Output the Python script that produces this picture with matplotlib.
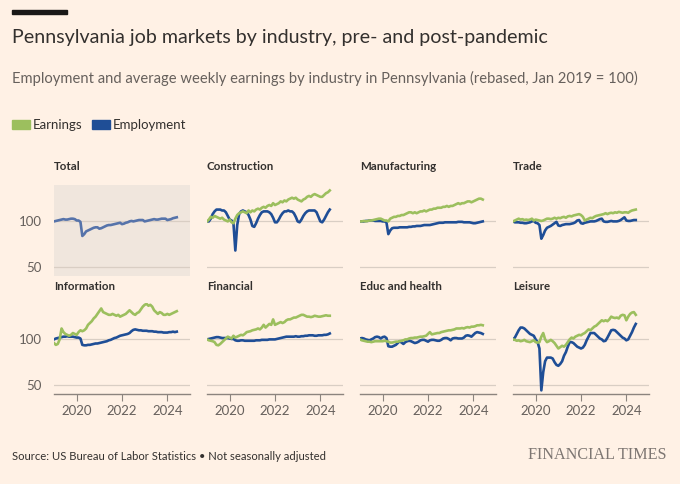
import matplotlib.pyplot as plt
import numpy as np
from matplotlib.patches import Rectangle

plt.rcParams["font.family"] = ["Lato", "DejaVu Sans"]

# monthly, Jan 2019 - Jun 2024, rebased Jan 2019 = 100
total_emp = [100, 100.5, 101, 101.5, 102, 102.5, 102, 102, 102.5, 103, 103, 102.5,
             101, 101, 99.5, 84, 86, 89, 90, 91, 92, 93, 93.5, 93.5,
             92, 92.5, 93.5, 94.5, 95.5, 96, 96, 96.5, 97, 97.5, 98, 98.5,
             97, 97.5, 98.5, 99, 100, 100.5, 100, 100.5, 101, 101.5, 101.5, 101.5,
             100, 100.5, 101, 101.5, 102, 102.5, 102, 102, 102.5, 103, 103, 103,
             101.5, 102, 102.5, 103.5, 104, 104.5]

constr_earn = [100, 102, 105, 104, 106, 105, 104, 103, 104, 102, 101, 100,
               102, 99, 98, 103, 107, 109, 110, 111, 110, 109, 112, 110,
               112, 111, 113, 114, 113, 115, 116, 115, 117, 118, 117, 120,
               118, 119, 120, 122, 121, 123, 122, 124, 125, 126, 125, 126,
               124, 123, 122, 124, 125, 127, 128, 127, 129, 130, 129, 128,
               127, 127, 129, 131, 132, 134]
constr_emp = [100, 100, 103, 108, 111, 113, 113, 113, 112, 112, 110, 106,
              102, 101, 98, 68, 96, 108, 111, 112, 111, 110, 107, 102,
              95, 94, 98, 103, 107, 110, 111, 111, 111, 110, 108, 104,
              99, 99, 102, 106, 109, 111, 111, 112, 111, 111, 109, 105,
              100, 99, 102, 106, 109, 111, 112, 112, 112, 112, 110, 105,
              100, 99, 102, 106, 110, 113]

manuf_earn = [100, 100, 100.5, 100, 100.5, 101, 101, 101.5, 102, 102.5, 103, 103,
              102, 101, 101, 100, 103, 104, 105, 105, 106, 106, 107, 107,
              108, 109, 110, 110, 109, 110, 109, 110, 111, 111, 112, 111,
              112, 113, 113, 114, 114, 115, 115, 115, 116, 116, 117, 116,
              117, 117, 118, 119, 120, 119, 120, 120, 121, 122, 122, 121,
              122, 123, 124, 125, 125, 124]
manuf_emp = [100, 100, 100, 100.5, 100.5, 101, 101, 101, 100.5, 100.5, 100.5, 100.5,
             100, 100, 99, 86, 90, 92.5, 93, 93, 93, 93.5, 93.5, 93.5,
             93.5, 93.5, 94, 94, 94.5, 94.5, 95, 95, 95, 95.5, 96, 96,
             96, 96, 96.5, 97, 97.5, 98, 98.5, 98.5, 98.5, 99, 99, 99,
             99, 99, 99, 99, 99.5, 99.5, 99.5, 99, 99, 99, 99, 98.5,
             98, 98, 98.5, 99, 99.5, 100]

trade_earn = [100, 101, 102, 103, 102, 102.5, 101.5, 102, 101.5, 102, 103, 101,
              102, 101.5, 101, 100.5, 101, 102, 103, 103, 102.5, 103, 104, 103,
              104, 103.5, 104.5, 105, 104, 105.5, 106, 105.5, 106.5, 107, 107.5, 108,
              107, 105, 101, 102, 103, 104, 103.5, 105, 106, 106.5, 107, 107.5,
              108, 109, 108, 109, 109.5, 109, 110, 109.5, 110.5, 110, 109.5, 110,
              110, 109.5, 111, 112, 112.5, 113]
trade_emp = [100, 99, 99, 99, 98.5, 98.5, 98, 98, 98.5, 99, 100, 100.5,
             98.5, 98, 96, 81, 85, 90, 93, 94, 95, 96.5, 98, 99.5,
             95.5, 95, 96, 96.5, 97, 97, 97, 97.5, 98, 99, 101, 101.5,
             98, 97.5, 98.5, 99, 99.5, 100, 100, 100, 100.5, 101.5, 102.5, 103,
             100, 99.5, 99.5, 100, 100.5, 100, 100, 100, 100.5, 101.5, 103, 104.5,
             101, 100.5, 100.5, 101, 101.5, 101.5]

info_earn = [96, 94, 95, 100, 112, 108, 106, 105, 104, 105, 107, 106,
             105, 108, 110, 109, 110, 112, 116, 118, 120, 123, 125, 128,
             131, 134, 130, 129, 128, 127, 127, 128, 127, 126, 127, 125,
             126, 127, 128, 130, 132, 130, 128, 127, 129, 130, 133, 136,
             138, 139, 137, 138, 136, 132, 130, 128, 130, 129, 127, 127,
             128, 127, 128, 129, 130, 131]
info_emp = [100, 101, 101.5, 102, 102.5, 103, 103, 103.5, 103, 103, 103, 102.5,
            102, 102, 101, 94, 93.5, 93.5, 94, 94, 94.5, 95, 95.5, 95.5,
            96, 96.5, 97, 97.5, 98, 99, 99.5, 100.5, 101.5, 102, 103, 104,
            104.5, 105, 105.5, 106, 107, 109, 110.5, 111, 110.5, 110, 110, 109.5,
            109.5, 109.5, 109, 109, 109, 108.5, 108.5, 108, 108, 108, 107.5, 107.5,
            107.5, 108, 108, 108.5, 108, 108.5]

fin_earn = [100, 99, 98.5, 98, 97, 94, 93.5, 95, 97, 99, 101, 103,
            102, 101, 104, 102, 103, 104, 105, 104.5, 106, 108, 108.5, 109,
            110, 110.5, 111, 112, 111, 113, 116, 113, 115, 117, 116, 122,
            116, 117, 118, 119, 118, 119, 121, 122, 122, 123, 124, 124,
            125, 126, 127, 127, 126, 125, 125, 124.5, 125, 126, 125.5, 125,
            125, 125.5, 126, 126.5, 126, 126]
fin_emp = [100, 100.5, 101, 101.5, 102, 102.5, 102.5, 102, 101.5, 101.5, 101.5, 101.5,
           101, 100.5, 100.5, 99, 98.5, 98.5, 99, 99, 98.5, 98.5, 98.5, 98.5,
           98.5, 98.5, 99, 99, 99, 99.5, 99.5, 99.5, 99.5, 100, 100, 100,
           100, 100.5, 101, 101.5, 102, 102.5, 103, 103, 103, 103, 103, 103.5,
           103, 103, 103.5, 103.5, 104, 104, 104.5, 104.5, 104.5, 104, 104, 104.5,
           104.5, 104.5, 105, 105, 105.5, 106.5]

educ_earn = [100, 99, 98.5, 98, 97.5, 97.5, 97, 97.5, 98, 98, 98, 98,
             98, 98.5, 98, 97.5, 96.5, 96.5, 97, 97.5, 97.5, 98, 98.5, 99,
             100, 100, 101, 101.5, 101.5, 102, 102, 102.5, 103, 103, 103.5, 104,
             106, 108, 105.5, 106, 106.5, 107, 107, 108, 108.5, 109, 109.5, 110,
             110, 110.5, 111, 112, 112, 112, 112.5, 112, 113, 113.5, 113, 114,
             114, 114.5, 115.5, 115.5, 116, 115.5]
educ_emp = [101, 101.5, 101, 100, 99.5, 99, 100, 101, 102.5, 103, 102.5, 101,
            102.5, 103, 101.5, 92.5, 92, 92, 93, 94, 96, 98, 96.5, 95,
            97, 98, 98.5, 98, 97, 96, 96.5, 97.5, 99, 99.5, 99.5, 98.5,
            97.5, 99, 99.5, 99.5, 99, 98.5, 98.5, 99.5, 101, 101.5, 101.5, 100.5,
            99, 101, 101.5, 101.5, 101, 101, 101, 102, 104, 104.5, 104, 103,
            105, 107, 108, 107.5, 107, 106]

leis_earn = [100, 99.5, 98.5, 99, 98, 98.5, 99.5, 98, 97.5, 97, 98, 99,
             97, 96.5, 97, 103, 107, 100, 97, 98, 99.5, 98, 96, 93,
             90, 91.5, 93, 92, 94, 97, 100, 102, 101, 103, 104, 105,
             104.5, 106, 107, 109, 111, 110, 112, 114, 115, 117, 119, 121,
             120, 121, 120, 122, 125, 124, 123.5, 124, 123, 126, 127, 126.5,
             121, 125, 128, 129.5, 130, 127]
leis_emp = [100, 102, 106, 110, 113, 113, 112, 110, 108, 106, 105, 104,
            100, 97, 90, 44, 64, 76, 80, 80, 80, 79, 75, 72,
            71, 73, 76, 82, 86, 92, 97, 97, 96, 94, 92, 91,
            90, 91, 94, 99, 103, 107, 107, 107, 105, 103, 101, 100,
            98, 98.5, 102, 106, 110, 110.5, 110, 108, 106, 104, 102, 101,
            99, 100, 104, 108, 113, 117]

panel_names = ["Total", "Construction", "Manufacturing", "Trade",
               "Information", "Financial", "Educ and health", "Leisure"]
earnings = [None, constr_earn, manuf_earn, trade_earn,
            info_earn, fin_earn, educ_earn, leis_earn]
employment = [total_emp, constr_emp, manuf_emp, trade_emp,
              info_emp, fin_emp, educ_emp, leis_emp]
year_ticks = [2020, 2022, 2024]

BG = "#fff1e5"
GREEN = "#9cbf5e"
BLUE = "#1f4e96"
TOTAL_BLUE = "#5673aa"
GRID = "#d9cec4"
AXIS = "#8c847e"
TEXT = "#33302e"
MUTED = "#66605c"

W, H = 680, 484
fig = plt.figure(figsize=(W / 100, H / 100), dpi=100, facecolor=BG)


def px_axes(left, top, width, height):
    return fig.add_axes([left / W, 1 - (top + height) / H, width / W, height / H])


months = 2019 + np.arange(len(total_emp)) / 12
col_left = [54, 207, 360, 513]
row_top = [185, 303]
title_y = [167, 286]

for i, name in enumerate(panel_names):
    row, col = divmod(i, 4)
    ax = px_axes(col_left[col], row_top[row], 136, 91)
    ax.set_facecolor("#f0e6dd" if i == 0 else "none")
    for v in (50, 100):
        ax.axhline(v, color=GRID, lw=0.9, zorder=0)
    if earnings[i] is None:
        ax.plot(months, employment[i], color=TOTAL_BLUE, lw=1.9, zorder=3)
    else:
        ax.plot(months, employment[i], color=BLUE, lw=1.9, zorder=2)
        ax.plot(months, earnings[i], color=GREEN, lw=1.9, zorder=3)
    ax.set_xlim(2019, 2025)
    ax.set_ylim(40, 140)
    for s in ("top", "right", "left"):
        ax.spines[s].set_visible(False)
    if row == 1:
        ax.spines["bottom"].set_color(AXIS)
        ax.spines["bottom"].set_linewidth(1)
        ax.set_xticks(year_ticks)
        ax.tick_params(axis="x", length=5, color=AXIS, labelcolor=MUTED,
                       labelsize=9.5, pad=3)
    else:
        ax.spines["bottom"].set_visible(False)
        ax.set_xticks([])
    if col == 0:
        ax.set_yticks([50, 100])
        ax.tick_params(axis="y", length=0, labelcolor=MUTED, labelsize=9.5, pad=9)
    else:
        ax.set_yticks([])
    fig.text(col_left[col] / W, 1 - title_y[row] / H, name, fontsize=8.3,
             fontweight="bold", color=TEXT, va="center")

fig.add_artist(Rectangle((12 / W, 1 - 14 / H), 55 / W, 4 / H,
                         transform=fig.transFigure, color="#1a1817"))
fig.text(12 / W, 1 - 37 / H, "Pennsylvania job markets by industry, pre- and post-pandemic",
         fontsize=14.1, color=TEXT, va="center")
fig.text(12 / W, 1 - 78 / H,
         "Employment and average weekly earnings by industry in Pennsylvania (rebased, Jan 2019 = 100)",
         fontsize=10.6, color=MUTED, va="center")

fig.add_artist(Rectangle((12 / W, 1 - 129 / H), 18 / W, 9 / H,
                         transform=fig.transFigure, color=GREEN))
fig.text(33 / W, 1 - 125 / H, "Earnings", fontsize=9.5, color=TEXT, va="center")
fig.add_artist(Rectangle((92 / W, 1 - 129 / H), 18 / W, 9 / H,
                         transform=fig.transFigure, color=BLUE))
fig.text(113 / W, 1 - 125 / H, "Employment", fontsize=9.5, color=TEXT, va="center")

fig.text(12 / W, 1 - 456 / H,
         "Source: US Bureau of Labor Statistics \u2022 Not seasonally adjusted",
         fontsize=8.15, color=TEXT, va="center")
fig.text(666 / W, 1 - 455 / H, "FINANCIAL TIMES", fontsize=11.6, color="#7d7672",
         family=["Liberation Serif", "DejaVu Serif"], ha="right", va="center")

fig.savefig("out.png", dpi=100, facecolor=BG)
